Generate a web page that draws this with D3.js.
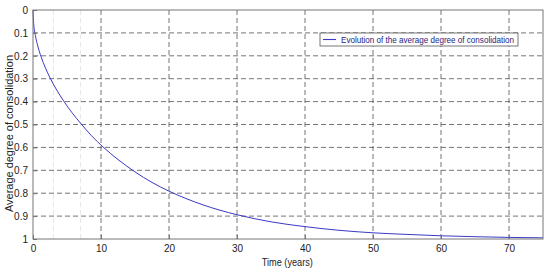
<!DOCTYPE html>
<html>
<head>
<meta charset="utf-8">
<script src="https://cdn.jsdelivr.net/npm/d3@7"></script>
<style>
  html, body { margin: 0; padding: 0; background: #fff; }
  svg { display: block; font-family: Arial, "Liberation Sans", sans-serif; }
</style>
</head>
<body>
<div id="chart"></div>
<script>
// 數據
const timeYears = [0, 0.1, 0.35, 0.7, 1.2, 1.8, 2.5, 3.4, 4.5, 5.7, 7.1, 8.6, 10.3, 12.5, 15, 17.5, 20, 25, 30, 35, 40, 45, 50, 55, 60, 65, 70, 75];
const avgDegree = [0, 0.059, 0.111, 0.157, 0.205, 0.251, 0.296, 0.345, 0.397, 0.447, 0.498, 0.549, 0.598, 0.653, 0.707, 0.753, 0.791, 0.851, 0.894, 0.925, 0.946, 0.962, 0.973, 0.98, 0.986, 0.99, 0.993, 0.995];
const xTicks = [0, 10, 20, 30, 40, 50, 60, 70];
const yTicks = [0, 0.1, 0.2, 0.3, 0.4, 0.5, 0.6, 0.7, 0.8, 0.9, 1];
const faintX = [3, 7];
const legendLabel = 'Evolution of the average degree of consolidation';

const width = 550, height = 274;
const margin = { top: 10, right: 7, bottom: 35, left: 33 };
const innerW = width - margin.left - margin.right;
const innerH = height - margin.top - margin.bottom;

const svg = d3.select('#chart').append('svg')
    .attr('width', width)
    .attr('height', height);

const g = svg.append('g')
    .attr('transform', `translate(${margin.left},${margin.top})`);

const x = d3.scaleLinear().domain([0, 75]).range([0, innerW]);
const y = d3.scaleLinear().domain([0, 1]).range([0, innerH]); // 0 在上方

// 淡色輔助線
g.selectAll('.faint')
    .data(faintX)
    .enter().append('line')
    .attr('x1', d => x(d)).attr('x2', d => x(d))
    .attr('y1', 0).attr('y2', innerH)
    .attr('stroke', '#e6e6e6')
    .attr('stroke-dasharray', '5,3');

// 網格
g.selectAll('.vgrid')
    .data(xTicks.filter(d => d > 0))
    .enter().append('line')
    .attr('x1', d => x(d)).attr('x2', d => x(d))
    .attr('y1', 0).attr('y2', innerH)
    .attr('stroke', '#505050')
    .attr('stroke-width', 0.8)
    .attr('stroke-dasharray', '5,3');

g.selectAll('.hgrid')
    .data(yTicks.filter(d => d > 0 && d < 1))
    .enter().append('line')
    .attr('x1', 0).attr('x2', innerW)
    .attr('y1', d => y(d)).attr('y2', d => y(d))
    .attr('stroke', '#505050')
    .attr('stroke-width', 0.8)
    .attr('stroke-dasharray', '5,3');

// 曲線
const line = d3.line()
    .x((d, i) => x(timeYears[i]))
    .y(d => y(d))
    .curve(d3.curveMonotoneX);

g.append('path')
    .datum(avgDegree)
    .attr('fill', 'none')
    .attr('stroke', '#3a3ac4')
    .attr('stroke-width', 1)
    .attr('d', line);

// 坐標軸
const xAxis = g.append('g')
    .attr('transform', `translate(0,${innerH})`)
    .call(d3.axisBottom(x).tickValues(xTicks).tickSize(-4).tickPadding(6).tickFormat(d3.format('d')));
const yAxis = g.append('g')
    .call(d3.axisLeft(y).tickValues(yTicks).tickSize(-4).tickPadding(5).tickFormat(d => d === 0 || d === 1 ? d : d3.format('.1f')(d)));

[xAxis, yAxis].forEach(a => {
    a.select('.domain').remove();
    a.selectAll('line').attr('stroke', '#777');
    a.selectAll('text').attr('font-size', '10px').attr('fill', '#222')
        .attr('font-family', 'Arial, "Liberation Sans", sans-serif');
});

// 外框
g.append('rect')
    .attr('x', 0).attr('y', 0)
    .attr('width', innerW).attr('height', innerH)
    .attr('fill', 'none')
    .attr('stroke', '#777')
    .attr('stroke-width', 1);

// 軸標題
svg.append('text')
    .attr('x', margin.left + x(37.4))
    .attr('y', 266)
    .attr('text-anchor', 'middle')
    .attr('font-size', '11px')
    .attr('fill', '#222')
    .attr('textLength', 51)
    .attr('lengthAdjust', 'spacingAndGlyphs')
    .text('Time (years)');

svg.append('text')
    .attr('transform', `translate(13,${margin.top + innerH / 2 + 9}) rotate(-90)`)
    .attr('text-anchor', 'middle')
    .attr('font-size', '11px')
    .attr('fill', '#222')
    .attr('textLength', 157)
    .attr('lengthAdjust', 'spacingAndGlyphs')
    .text('Average degree of consolidation');

// 圖例
const legend = svg.append('g').attr('transform', 'translate(320,33)');
legend.append('rect')
    .attr('width', 198).attr('height', 13)
    .attr('fill', '#fff')
    .attr('stroke', '#555')
    .attr('stroke-width', 0.8);
legend.append('line')
    .attr('x1', 3).attr('x2', 16)
    .attr('y1', 6.5).attr('y2', 6.5)
    .attr('stroke', '#3a3ac4')
    .attr('stroke-width', 1.1);
legend.append('text')
    .attr('x', 21).attr('y', 10)
    .attr('font-size', '8.7px')
    .attr('fill', '#1e1e80')
    .attr('textLength', 173)
    .attr('lengthAdjust', 'spacingAndGlyphs')
    .text(legendLabel);
</script>
</body>
</html>
